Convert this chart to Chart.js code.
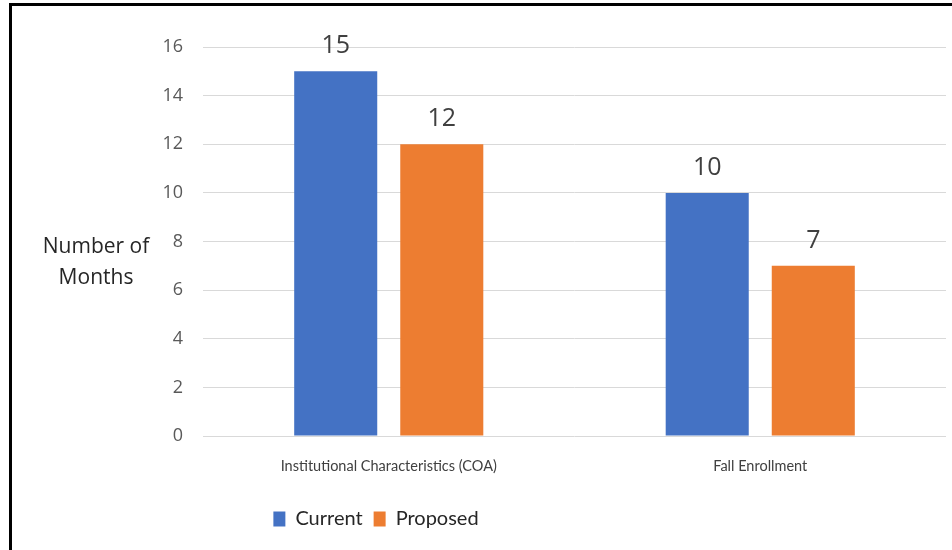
<!DOCTYPE html>
<html>
<head>
<meta charset="utf-8">
<script src="https://cdn.jsdelivr.net/npm/chart.js@4"></script>
<style>
  html, body { margin: 0; padding: 0; background: #fff; }
  #wrap { position: relative; width: 952px; height: 550px; overflow: hidden; }
  #frame { position: absolute; left: 9px; top: 3px; width: 1000px; height: 600px;
           border-left: 3px solid #000; border-top: 3px solid #000; }
  #grafica { position: absolute; left: 0; top: 0; }
</style>
</head>
<body>
<div id="wrap">
  <div id="frame"></div>
  <canvas id="grafica" width="952" height="550"></canvas>
</div>
<script>
// valores
const categorias = ['Institutional Characteristics (COA)', 'Fall Enrollment'];
const actual = [15, 10];
const propuesto = [12, 7];
const ticksY = [0, 2, 4, 6, 8, 10, 12, 14, 16];
const tituloY = ['Number of', 'Months'];

const colorAzul = '#4472C4';
const colorNaranja = '#ED7D31';

// etiquetas de valor encima de cada barra
const etiquetasPlugin = {
    id: 'etiquetas',
    afterDatasetsDraw(chart) {
        const ctx = chart.ctx;
        ctx.save();
        ctx.font = '25px "Open Sans"';
        ctx.fillStyle = '#404040';
        ctx.textAlign = 'center';
        ctx.textBaseline = 'alphabetic';
        chart.data.datasets.forEach((ds, i) => {
            chart.getDatasetMeta(i).data.forEach((bar, j) => {
                ctx.fillText(ds.data[j], bar.x, bar.y - 18);
            });
        });
        ctx.restore();
    }
};

// titulo del eje Y horizontal a la izquierda
const tituloPlugin = {
    id: 'tituloY',
    afterDraw(chart) {
        const ctx = chart.ctx;
        const y = chart.scales.y;
        ctx.save();
        ctx.font = '21px "Open Sans"';
        ctx.fillStyle = '#262626';
        ctx.textAlign = 'center';
        ctx.textBaseline = 'middle';
        const cx = 96;
        const cy = y.getPixelForValue(6.9);
        ctx.fillText(tituloY[0], cx, cy - 21);
        ctx.fillText(tituloY[1], cx, cy + 10);
        ctx.restore();
    }
};

// la leyenda va centrada en la parte izquierda, como en el original
const leyendaPlugin = {
    id: 'leyendaIzq',
    afterLayout(chart) {
        chart.legend.left = 0;
        chart.legend.right = 752;
    }
};

document.addEventListener('DOMContentLoaded', function(){
    var ctx = document.getElementById('grafica').getContext('2d');
    var myChart = new Chart(ctx, {
        type: 'bar',
        data: {
            labels: categorias,
            datasets: [{
                label: 'Current',
                data: actual,
                backgroundColor: colorAzul,
                categoryPercentage: 0.571,
                barPercentage: 0.783
            }, {
                label: 'Proposed',
                data: propuesto,
                backgroundColor: colorNaranja,
                categoryPercentage: 0.571,
                barPercentage: 0.783
            }]
        },
        options: {
            responsive: false,
            animation: false,
            layout: { padding: { top: 47, right: 6, bottom: 11, left: 0 } },
            plugins: {
                tooltip: { enabled: false },
                legend: {
                    position: 'bottom',
                    labels: {
                        font: { family: 'Lato', size: 20 },
                        color: '#262626',
                        boxWidth: 12,
                        boxHeight: 15,
                        padding: 11
                    }
                }
            },
            scales: {
                x: {
                    grid: { display: false },
                    border: { display: false },
                    ticks: {
                        font: { family: 'Lato', size: 14.5 },
                        color: '#404040',
                        padding: 14,
                        maxRotation: 0
                    },
                    afterFit: function(scale){ scale.height = 62; }
                },
                y: {
                    min: 0,
                    max: 16,
                    afterBuildTicks: function(scale){
                        scale.ticks = ticksY.map(v => ({ value: v }));
                    },
                    grid: { color: '#d9d9d9', lineWidth: 1, drawTicks: false },
                    border: { display: false },
                    ticks: {
                        font: { family: '"Open Sans"', size: 18 },
                        color: '#595959',
                        padding: 20
                    },
                    afterFit: function(scale){ scale.width = 203; }
                }
            }
        },
        plugins: [etiquetasPlugin, tituloPlugin, leyendaPlugin]
    });
});
</script>
</body>
</html>
